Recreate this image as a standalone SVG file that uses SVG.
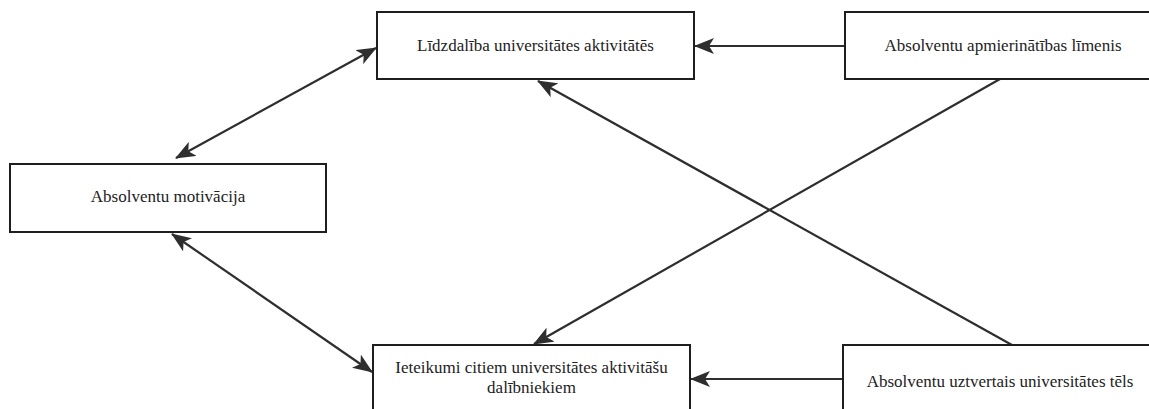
<svg xmlns="http://www.w3.org/2000/svg" width="1149" height="409" viewBox="0 0 1149 409">
  <style>
    .box { fill: #ffffff; stroke: #1e1e1e; stroke-width: 2; }
    .lbl { font-family: "Liberation Serif", "Times New Roman", serif; font-size: 17px; fill: #222222; text-anchor: middle; }
    .edge { stroke: #2e2e2e; stroke-width: 2.2; fill: none; }
  </style>
  <defs>
    <marker id="h" viewBox="0 0 20 16" refX="19" refY="8" markerWidth="20" markerHeight="16" markerUnits="userSpaceOnUse" orient="auto-start-reverse">
      <path d="M0,0 L20,8 L0,16 L5,8 Z" fill="#2e2e2e"/>
    </marker>
  </defs>

  <g id="connectors">
    <line class="edge" x1="845" y1="46" x2="695" y2="46" marker-end="url(#h)"/>
    <line class="edge" x1="843" y1="379" x2="691" y2="379" marker-end="url(#h)"/>
    <line class="edge" x1="176" y1="158" x2="376" y2="48" marker-start="url(#h)" marker-end="url(#h)"/>
    <line class="edge" x1="172" y1="234" x2="372" y2="372" marker-start="url(#h)" marker-end="url(#h)"/>
    <line class="edge" x1="1012" y1="345" x2="538" y2="81" marker-end="url(#h)"/>
    <line class="edge" x1="1000" y1="79" x2="534" y2="344" marker-end="url(#h)"/>
  </g>

  <g id="node-lidzdaliba">
    <rect class="box" x="377" y="12" width="317" height="67"/>
    <text class="lbl" x="535.5" y="51">Līdzdalība universitātes aktivitātēs</text>
  </g>
  <g id="node-apmierinatiba">
    <rect class="box" x="845" y="12" width="316" height="67"/>
    <text class="lbl" x="1003" y="51">Absolventu apmierinātības līmenis</text>
  </g>
  <g id="node-motivacija">
    <rect class="box" x="10" y="164" width="316" height="68"/>
    <text class="lbl" x="168" y="202">Absolventu motivācija</text>
  </g>
  <g id="node-ieteikumi">
    <rect class="box" x="373" y="345" width="317" height="68"/>
    <text class="lbl" x="531.5" y="373">Ieteikumi citiem universitātes aktivitāšu</text>
    <text class="lbl" x="531.5" y="393">dalībniekiem</text>
  </g>
  <g id="node-teels">
    <rect class="box" x="843" y="345" width="316" height="68"/>
    <text class="lbl" x="1000" y="387">Absolventu uztvertais universitātes tēls</text>
  </g>
</svg>
